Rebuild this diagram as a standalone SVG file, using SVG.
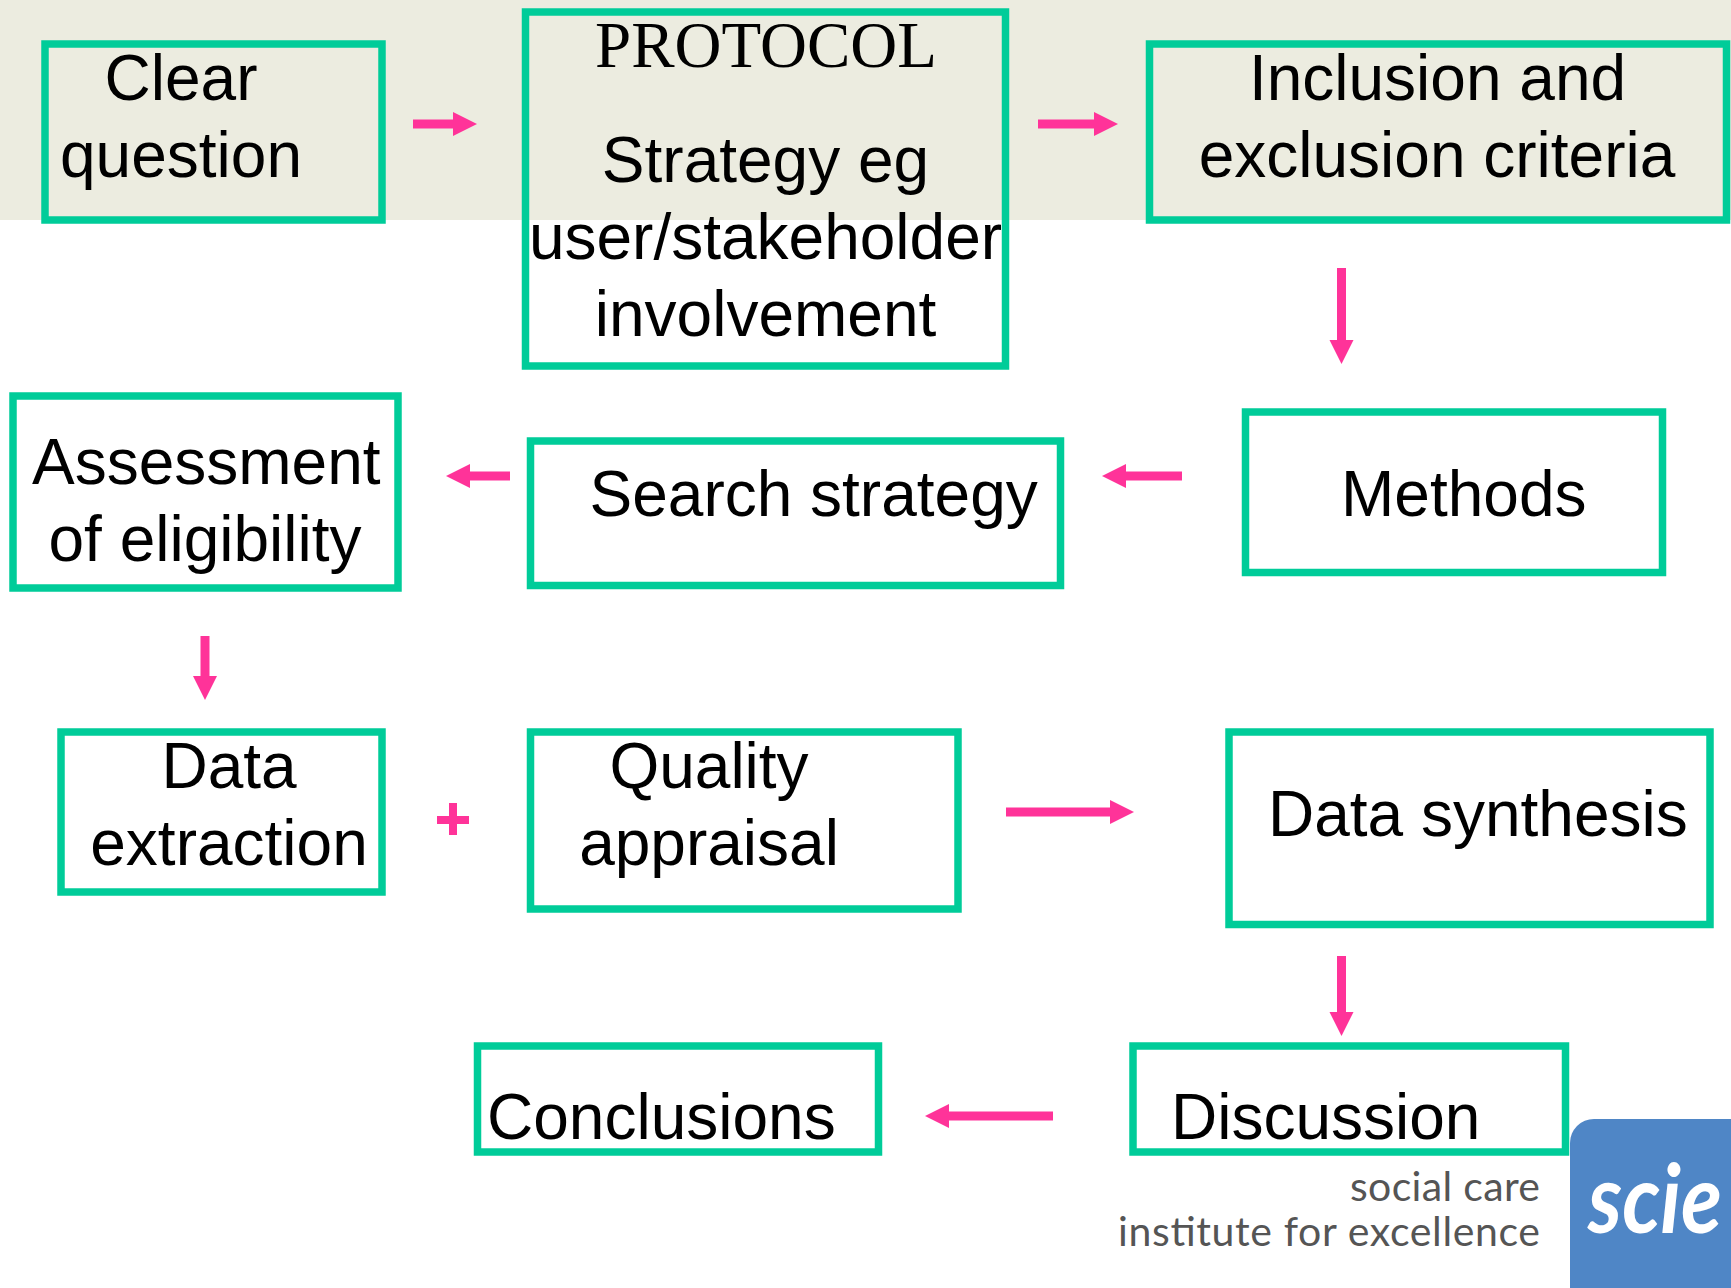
<svg xmlns="http://www.w3.org/2000/svg" width="1731" height="1288" viewBox="0 0 1731 1288">
<style>
.box{fill:none;stroke:#00CC99;stroke-width:7.5}
.t{font-family:"Liberation Sans",Arial,sans-serif;font-size:64px;fill:#000}
.m{text-anchor:middle}
.s{font-family:"Liberation Serif","Times New Roman",serif}
.c{stroke:#FF3399;stroke-width:9;fill:none;marker-end:url(#ah)}
.org{font-family:"Lato","Open Sans",sans-serif;font-weight:400;font-size:41px;fill:#555}
</style>
<defs>
<marker id="ah" markerUnits="userSpaceOnUse" markerWidth="26" markerHeight="26" refX="0" refY="13" orient="auto"><path d="M0 1L24 13L0 25Z" fill="#FF3399"/></marker>
</defs>
<rect width="1731" height="1288" fill="#fff"/>
<rect id="band" width="1731" height="220" fill="#ECECE0"/>
<g id="connectors">
<path class="c" d="M413 124H453"/>
<path class="c" d="M1038 124H1094"/>
<path class="c" d="M1341.500 268V340"/>
<path class="c" d="M1182 476H1126"/>
<path class="c" d="M510 476H470"/>
<path class="c" d="M205 636V676"/>
<path class="c" d="M1006 812H1110"/>
<path class="c" d="M1341.500 956V1012"/>
<path class="c" d="M1053 1116H949"/>
<path d="M453 803V835M437 820H469" stroke="#FF3399" stroke-width="8" fill="none"/>
</g>
<g id="n-clear"><rect class="box" x="45" y="44" width="337" height="176"/><text class="t" x="104.500" y="100">Clear</text><text class="t" x="60" y="177">question</text></g>
<g id="n-protocol"><rect class="box" x="525.500" y="12" width="480" height="354"/><text class="t s m" x="766" y="67" style="font-size:65px">PROTOCOL</text><text class="t m" x="765.500" y="182">Strategy eg</text><text class="t m" x="765.500" y="259">user/stakeholder</text><text class="t m" x="765.500" y="336">involvement</text></g>
<g id="n-inclusion"><rect class="box" x="1149.500" y="44" width="577" height="176"/><text class="t m" x="1437.500" y="100">Inclusion and</text><text class="t m" x="1437" y="176.500">exclusion criteria</text></g>
<g id="n-methods"><rect class="box" x="1245.500" y="412" width="417" height="160.500"/><text class="t" x="1341" y="516">Methods</text></g>
<g id="n-search"><rect class="box" x="530.500" y="441" width="530" height="144.500"/><text class="t" x="589.500" y="516">Search strategy</text></g>
<g id="n-assessment"><rect class="box" x="13" y="396" width="385" height="192"/><text class="t" x="32" y="484">Assessment</text><text class="t" x="48.500" y="561">of eligibility</text></g>
<g id="n-extraction"><rect class="box" x="61" y="732" width="321" height="160"/><text class="t m" x="229" y="788">Data</text><text class="t m" x="229" y="865">extraction</text></g>
<g id="n-quality"><rect class="box" x="530.500" y="732" width="427.500" height="177"/><text class="t m" x="709" y="788">Quality</text><text class="t m" x="709" y="865">appraisal</text></g>
<g id="n-synthesis"><rect class="box" x="1229" y="732" width="481" height="192.500"/><text class="t" x="1268" y="836">Data synthesis</text></g>
<g id="n-discussion"><rect class="box" x="1133" y="1046" width="432.500" height="106"/><text class="t" x="1171" y="1139">Discussion</text></g>
<g id="n-conclusions"><rect class="box" x="477.500" y="1046" width="401" height="106"/><text class="t" x="487" y="1139">Conclusions</text></g>
<g id="logo">
<text class="org" x="1350" y="1201" textLength="190" lengthAdjust="spacing">social care</text>
<text class="org" x="1118" y="1246" textLength="422" lengthAdjust="spacing">institute for excellence</text>
<rect x="1570" y="1119" width="200" height="200" rx="24" fill="#4F86C6"/>
<text x="1588" y="1233" font-family="Lato,'Open Sans',sans-serif" font-weight="700" font-style="italic" font-size="96" fill="#fff" textLength="134" lengthAdjust="spacingAndGlyphs">scie</text>
</g>
</svg>
